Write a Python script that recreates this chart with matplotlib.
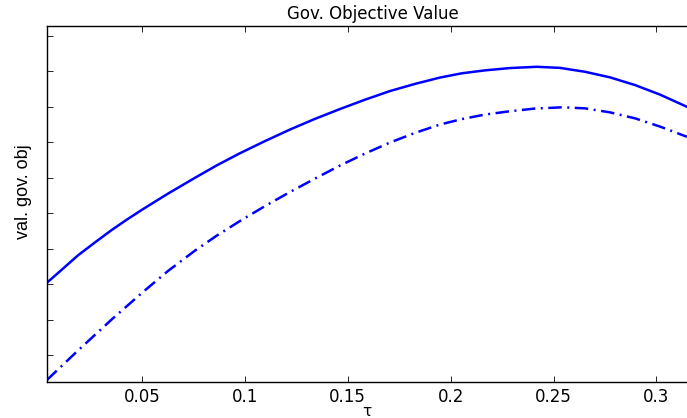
import matplotlib
matplotlib.use("Agg")
import matplotlib.pyplot as plt

# government objective value vs. tax rate tau, two scenarios
tau_a = [0.0038, 0.0111, 0.0189, 0.0272, 0.0354, 0.0427, 0.05, 0.0626,
         0.0758, 0.0864, 0.0976, 0.1098, 0.1219, 0.1341, 0.1462, 0.1584,
         0.1705, 0.1827, 0.1948, 0.2055, 0.2167, 0.2288, 0.2419, 0.2531,
         0.2653, 0.2774, 0.2896, 0.3017, 0.3148]
obj_a = [3.037, 3.408, 3.808, 4.175, 4.527, 4.817, 5.093, 5.546,
         5.994, 6.345, 6.685, 7.028, 7.352, 7.654, 7.930, 8.194,
         8.437, 8.639, 8.817, 8.938, 9.020, 9.085, 9.121, 9.090,
         8.980, 8.823, 8.606, 8.338, 7.994]

tau_b = [0.0038, 0.0189, 0.0354, 0.05, 0.0626, 0.0758, 0.0864, 0.0976,
         0.1098, 0.1219, 0.1341, 0.1462, 0.1584, 0.1705, 0.1827, 0.1948,
         0.2055, 0.2167, 0.2288, 0.2410, 0.2546, 0.2653, 0.2774, 0.2896,
         0.3017, 0.3148]
obj_b = [0.296, 1.127, 2.008, 2.752, 3.366, 3.944, 4.366, 4.775,
         5.197, 5.592, 5.972, 6.338, 6.676, 6.986, 7.259, 7.493,
         7.648, 7.775, 7.868, 7.944, 7.980, 7.949, 7.837, 7.668,
         7.437, 7.149]

xticks = [0.05, 0.1, 0.15, 0.2, 0.25, 0.3]
xticklabels = ["0.05", "0.1", "0.15", "0.2", "0.25", "0.3"]
yticks = [1, 2, 3, 4, 5, 6, 7, 8, 9, 10]

plt.rcParams["font.family"] = ["DejaVu Sans"]

fig = plt.figure(figsize=(6.87, 4.18), dpi=100)
ax = fig.add_axes([0.0684, 0.0861, 0.9316, 0.8517])

ax.plot(tau_a, obj_a, color="#0000ff", lw=1.8)
ax.plot(tau_b, obj_b, color="#0000ff", lw=1.8,
        linestyle=(0, (5.4, 2.2, 0.8, 2.2)))

ax.set_xlim(0.00383, 0.31486)
ax.set_ylim(0.239, 10.27)
ax.set_xticks(xticks)
ax.set_xticklabels(xticklabels)
ax.set_yticks(yticks)
ax.set_yticklabels([])
ax.tick_params(direction="in", top=True, right=False, length=4.5,
               width=0.6, labelsize=12, pad=4)

ax.spines["right"].set_visible(False)
for side in ("left", "top", "bottom"):
    ax.spines[side].set_linewidth(1.0)

ax.set_title("Gov. Objective Value", fontsize=12, pad=5, x=0.509)
ax.set_xlabel("τ", fontsize=11, labelpad=-1)
ax.set_ylabel("val. gov. obj", fontsize=13,
              family=["Liberation Sans Narrow", "Liberation Sans"])
ax.yaxis.set_label_coords(-0.0234, 0.536)

fig.savefig("out.png", dpi=100)
